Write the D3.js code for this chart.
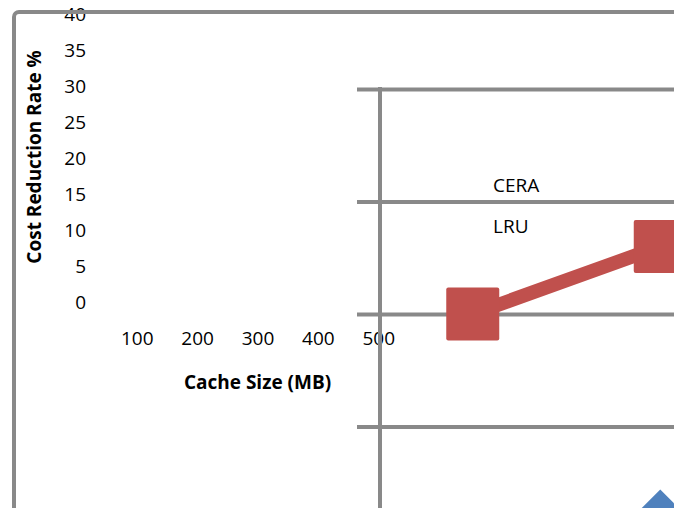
<!DOCTYPE html>
<html><head><meta charset="utf-8">
<script src="https://cdn.jsdelivr.net/npm/d3@7"></script>
<style>
html,body{margin:0;padding:0;background:#fff;}
svg{display:block;font-family:"Open Sans",sans-serif;}
</style></head>
<body>
<script>
const categories = [100, 200, 300, 400, 500];
const lruValues  = [30, 33, 35, 36, 37];
const ceraValues = [18, 21, 24, 26, 28];
const yTickValues = [0, 5, 10, 15, 20, 25, 30, 35, 40];
const seriesNames = ["CERA", "LRU"];
const xTitle = "Cache Size (MB)";
const yTitle = "Cost Reduction Rate %";

const W = 689, H = 508;
const grey = "#898989";
const svg = d3.select("body").append("svg").attr("width", W).attr("height", H);

svg.append("defs").append("clipPath").attr("id", "clip")
  .append("rect").attr("x", 0).attr("y", 0).attr("width", 674).attr("height", H);

// ---- small chart (labels only) ----
const xS = d3.scaleBand().domain(categories).range([107, 107 + 5 * 60.4]);
const yS = d3.scaleLinear().domain([0, 40]).range([302, 14]);

const yAx = svg.append("g").attr("transform", "translate(107,0)")
  .call(d3.axisLeft(yS).tickValues(yTickValues).tickSize(0).tickPadding(21));
yAx.select(".domain").remove();
yAx.selectAll("text").attr("font-size", 19).attr("font-family", "Open Sans").attr("fill", "#000");

const xAx = svg.append("g").attr("transform", "translate(0,302)")
  .call(d3.axisBottom(xS).tickSize(0).tickPadding(29.5));
xAx.select(".domain").remove();
xAx.selectAll("text").attr("font-size", 19).attr("font-family", "Open Sans").attr("fill", "#000");

svg.append("text").attr("x", 257.5).attr("y", 389).attr("text-anchor", "middle")
  .attr("font-size", 19).attr("font-weight", "bold").text(xTitle);

svg.append("text").attr("transform", "translate(34,157) rotate(-90)")
  .attr("text-anchor", "middle").attr("dy", "0.35em")
  .attr("font-size", 19).attr("font-weight", "bold").text(yTitle);

// legend labels
svg.selectAll("text.leg").data(seriesNames).enter().append("text")
  .attr("class", "leg").attr("x", 493).attr("y", (d, i) => 192 + i * 41)
  .attr("font-size", 19).text(d => d);

// ---- enlarged plot ----
const big = svg.append("g").attr("clip-path", "url(#clip)");
const xB = d3.scaleBand().domain(categories).range([379, 379 + 5 * 187.5]);
const yB = d3.scaleLinear().domain([0, 40]).range([989, 89]);

const grid = big.append("g").attr("transform", "translate(357,0)")
  .call(d3.axisRight(yB).tickValues(yTickValues).tickSize(400).tickFormat(""));
grid.select(".domain").remove();
grid.selectAll("line").attr("stroke", grey).attr("stroke-width", 4);

big.append("line").attr("x1", 380).attr("x2", 380)
  .attr("y1", yB(40) - 2).attr("y2", yB(0))
  .attr("stroke", grey).attr("stroke-width", 4);

// outer frame
big.append("rect").attr("x", 14).attr("y", 12).attr("width", 800).attr("height", 800)
  .attr("rx", 5).attr("fill", "none").attr("stroke", grey).attr("stroke-width", 4);

const cx = d => xB(d) + xB.bandwidth() / 2;
const line = d3.line().x(d => cx(d[0])).y(d => yB(d[1]));

const ceraPts = categories.map((c, i) => [c, ceraValues[i]]);
const lruPts = categories.map((c, i) => [c, lruValues[i]]);

big.append("path").datum(ceraPts).attr("d", line).attr("fill", "none")
  .attr("stroke", "#4F81BD").attr("stroke-width", 14);
big.selectAll("path.dia").data(ceraPts).enter().append("path").attr("class", "dia")
  .attr("d", d => { const x = cx(d[0]), y = yB(d[1]), r = 27;
    return `M${x},${y - r}L${x + r},${y}L${x},${y + r}L${x - r},${y}Z`; })
  .attr("fill", "#4F81BD");

big.append("path").datum(lruPts).attr("d", line).attr("fill", "none")
  .attr("stroke", "#C0504D").attr("stroke-width", 14);
big.selectAll("rect.sq").data(lruPts).enter().append("rect").attr("class", "sq")
  .attr("x", d => cx(d[0]) - 26.5).attr("y", d => yB(d[1]) - 26.5)
  .attr("width", 53).attr("height", 53).attr("rx", 2).attr("fill", "#C0504D");
</script>
</body></html>
